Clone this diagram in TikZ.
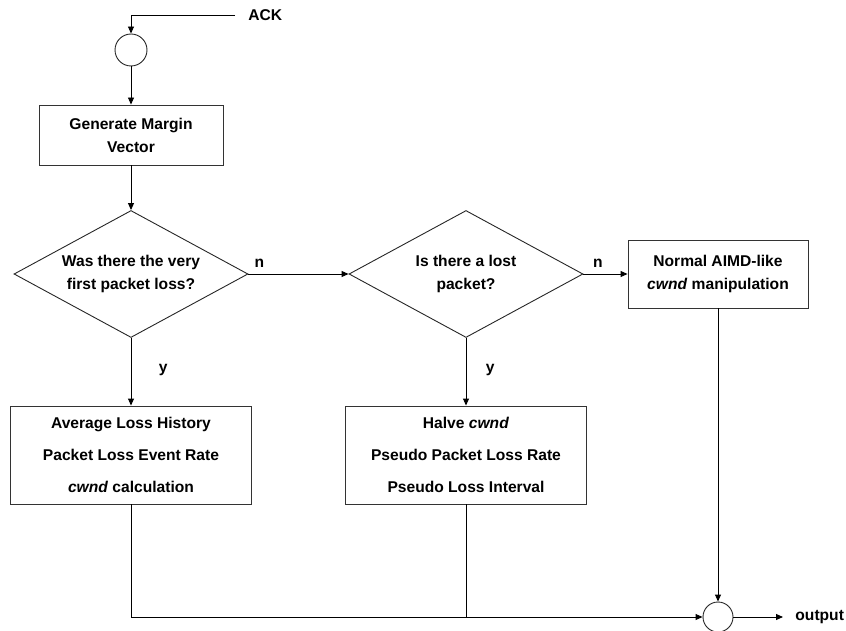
\documentclass[tikz,border=0pt]{standalone}
\usepackage{fontspec}
\setmainfont{Liberation Sans}
\usetikzlibrary{shapes.geometric,arrows.meta}

\begin{document}
\begin{tikzpicture}[
    x=1pt, y=-1pt,
    font=\fontsize{15.6}{23}\selectfont\bfseries,
    line width=0.9pt,
    >={Triangle[length=7pt,width=6pt]},
    procbox/.style={draw=black!80, rectangle, align=center, inner sep=0pt},
    decision/.style={draw=black!85, diamond, align=center, inner sep=0pt,
        shape aspect=1.83, minimum width=234pt, minimum height=127pt},
    joint/.style={draw=black!85, circle, inner sep=0pt}
]
\useasboundingbox (0,0) rectangle (846,631);

% input and first steps
\node[anchor=west, inner sep=0pt] (ack) at (248,15) {ACK};
\node[joint, minimum size=32pt] (start) at (131,50) {};
\node[procbox, minimum width=184pt, minimum height=60pt] (margin) at (131,135)
    {Generate Margin\\Vector};

% decisions
\node[decision] (firstloss) at (131,274) {Was there the very\\first packet loss?};
\node[decision] (lostpkt) at (466,274) {Is there a lost\\packet?};

% actions
\node[procbox, minimum width=180pt, minimum height=68pt] (aimd) at (718,274)
    {Normal AIMD-like\\\textit{cwnd} manipulation};
\node[procbox, minimum width=241pt, minimum height=98pt,
    font=\fontsize{15.6}{32}\selectfont\bfseries] (avgloss) at (131,455)
    {Average Loss History\\Packet Loss Event Rate\\\textit{cwnd} calculation};
\node[procbox, minimum width=241pt, minimum height=98pt,
    font=\fontsize{15.6}{32}\selectfont\bfseries] (halve) at (466,455)
    {Halve \textit{cwnd}\\Pseudo Packet Loss Rate\\Pseudo Loss Interval};

% output
\node[joint, minimum size=30pt] (merge) at (718,617) {};
\node[anchor=west, inner sep=0pt] (output) at (795,617) {output};

% connectors
\draw[->, shorten <=13pt] (ack.west) -| (start.north);
\draw[->] (start.south) -- (margin.north);
\draw[->] (margin.south) -- (firstloss.north);
\draw[->] (firstloss.east) -- node[above, pos=0.11, yshift=3pt] {n} (lostpkt.west);
\draw[->] (lostpkt.east) -- node[above, pos=0.33, yshift=3pt] {n} (aimd.west);
\draw[->] (firstloss.south) -- node[pos=0.47, right=24pt] {y} (avgloss.north);
\draw[->] (lostpkt.south) -- node[pos=0.47, right=16pt] {y} (halve.north);
\draw[->] (aimd.south) -- (merge.north);
\draw[->] (avgloss.south) |- (merge.west);
\draw (halve.south) -- (halve.south |- merge.west);
\draw[->, shorten >=12pt] (merge.east) -- (output.west);

\end{tikzpicture}
\end{document}
